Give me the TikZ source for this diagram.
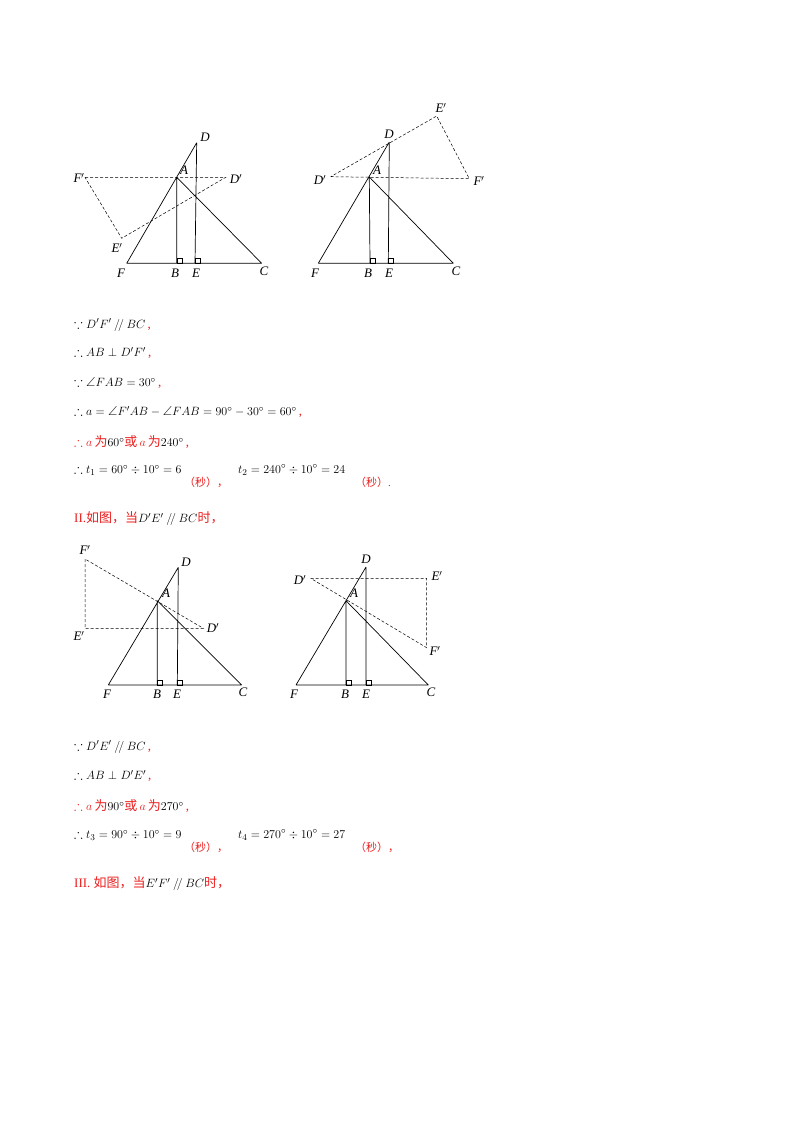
\documentclass[tikz,border=0pt]{standalone}
\usepackage{amssymb}
\usepackage{fontspec}
\setmainfont{Liberation Serif}
\newfontfamily\cjk{Noto Sans CJK SC}
\definecolor{rd}{RGB}{235,30,30}
\newcommand{\zh}[1]{{\cjk #1}}
\newcommand{\pl}{\mathbin{/\!/}}
\begin{document}
\begin{tikzpicture}[x=1pt,y=-1pt,
  solidl/.style={line width=0.7pt},
  dashl/.style={dashed,line width=0.5pt,dash pattern=on 3pt off 2pt},
  lbl/.style={font=\fontsize{13}{13}\selectfont\itshape,inner sep=0pt},
  txt/.style={anchor=west,inner sep=0pt,font=\fontsize{13}{16}\selectfont}]
\useasboundingbox (0,0) rectangle (800,1132);
\newcommand{\rt}[2]{\draw[line width=0.4pt] (#1,#2) rectangle ++(5,-5);}
% Figure 1
\coordinate (F1) at (126.7,263.3); \coordinate (B1) at (176.7,263.3);
\coordinate (E1) at (195,263.3); \coordinate (C1) at (261.7,263.3);
\coordinate (A1) at (176.7,177.3); \coordinate (D1) at (196.7,142.7);
\coordinate (Fp1) at (85,177.3); \coordinate (Dp1) at (225.7,177.3); \coordinate (Ep1) at (121.7,238.3);
\draw[solidl] (F1)--(D1) (A1)--(B1) (D1)--(E1) (A1)--(C1) (F1)--(C1);
\draw[dashl] (Fp1)--(Dp1)--(Ep1)--cycle;
\rt{176.7}{263.3}\rt{195}{263.3}
\node[lbl] at (205,137) {D}; \node[lbl] at (184,170) {A};
\node[lbl] at (79,178) {F$'$}; \node[lbl] at (236,179) {D$'$};
\node[lbl] at (117,248) {E$'$}; \node[lbl] at (121,273) {F};
\node[lbl] at (175,273) {B}; \node[lbl] at (196,273) {E}; \node[lbl] at (264,271) {C};
% Figure 2
\coordinate (F2) at (318.3,263.3); \coordinate (B2) at (370,263.3);
\coordinate (E2) at (388.3,263.3); \coordinate (C2) at (453.3,263.3);
\coordinate (A2) at (369.3,177); \coordinate (D2) at (389.3,142);
\coordinate (Dp2) at (330.7,176.7); \coordinate (Fp2) at (469.3,178.7); \coordinate (Ep2) at (436.7,116);
\draw[solidl] (F2)--(D2) (A2)--(B2) (D2)--(E2) (A2)--(C2) (F2)--(C2);
\draw[dashl] (Dp2)--(Fp2)--(Ep2)--cycle;
\rt{370}{263.3}\rt{388.3}{263.3}
\node[lbl] at (389,134) {D}; \node[lbl] at (377,170) {A};
\node[lbl] at (320,180) {D$'$}; \node[lbl] at (479,181) {F$'$};
\node[lbl] at (441,108) {E$'$}; \node[lbl] at (315,273) {F};
\node[lbl] at (368,273) {B}; \node[lbl] at (389,273) {E}; \node[lbl] at (456,271) {C};
% Figure 3
\coordinate (F3) at (108.3,685); \coordinate (B3) at (157.3,685);
\coordinate (E3) at (177.3,685); \coordinate (C3) at (241.7,685);
\coordinate (A3) at (157.3,600.7); \coordinate (D3) at (178.3,567.3);
\coordinate (Fp3) at (85,559); \coordinate (Ep3) at (85,628.3); \coordinate (Dp3) at (203.3,628.3);
\draw[solidl] (F3)--(D3) (A3)--(B3) (D3)--(E3) (A3)--(C3) (F3)--(C3);
\draw[dashl] (Fp3)--(Ep3)--(Dp3)--cycle;
\rt{157.3}{685}\rt{177.3}{685}
\node[lbl] at (186,562) {D}; \node[lbl] at (166,593) {A};
\node[lbl] at (85,550) {F$'$}; \node[lbl] at (213,628) {D$'$};
\node[lbl] at (79,636) {E$'$}; \node[lbl] at (107,694) {F};
\node[lbl] at (157,694) {B}; \node[lbl] at (177,694) {E}; \node[lbl] at (243,692) {C};
% Figure 4
\coordinate (F4) at (296,685); \coordinate (B4) at (346,685);
\coordinate (E4) at (366,685); \coordinate (C4) at (428.3,685);
\coordinate (A4) at (346,600.7); \coordinate (D4) at (366,567);
\coordinate (Dp4) at (310.7,578.3); \coordinate (Ep4) at (426.7,578.3); \coordinate (Fp4) at (426.7,647.7);
\draw[solidl] (F4)--(D4) (A4)--(B4) (D4)--(E4) (A4)--(C4) (F4)--(C4);
\draw[dashl] (Dp4)--(Ep4)--(Fp4)--cycle;
\rt{346}{685}\rt{366}{685}
\node[lbl] at (366,559) {D}; \node[lbl] at (354,593) {A};
\node[lbl] at (300,580) {D$'$}; \node[lbl] at (437,576) {E$'$};
\node[lbl] at (435,651) {F$'$}; \node[lbl] at (294,694) {F};
\node[lbl] at (345,694) {B}; \node[lbl] at (366,694) {E}; \node[lbl] at (431,692) {C};
% Text block 1
\node[txt] (t1) at (74,325) {$\because D'F'\pl BC$\,\textcolor{rd}{,}};
\node[txt] (t2) at (74,353) {$\therefore AB\perp D'F'$\,\textcolor{rd}{,}};
\node[txt] (t3) at (74,383) {$\because \angle FAB=30^\circ$\,\textcolor{rd}{,}};
\node[txt] (t4) at (74,412) {$\therefore a=\angle F'AB-\angle FAB=90^\circ-30^\circ=60^\circ$\,\textcolor{rd}{,}};
\node[txt,text=rd] (t5) at (74,442) {$\therefore a$\,\zh{为}\textcolor{black}{$60^\circ$}\zh{或}\,$a$\,\zh{为}\textcolor{black}{$240^\circ$}\,,};
\node[txt] (t6) at (74,470) {$\therefore t_1=60^\circ\div10^\circ=6$};
\node[txt,text=rd,font=\fontsize{11}{13}\selectfont] (t6b) at (184,482) {\zh{（秒），}};
\node[txt] (t7) at (238,470) {$t_2=240^\circ\div10^\circ=24$};
\node[txt,text=rd,font=\fontsize{11}{13}\selectfont] (t7b) at (355,482) {\zh{（秒）}.};
\node[txt,text=rd] (t8) at (74,519) {II.\zh{如图，当}\textcolor{black}{$D'E'\pl BC$}\zh{时，}};
% Text block 2
\node[txt] (u1) at (74,747) {$\because D'E'\pl BC$\,\textcolor{rd}{,}};
\node[txt] (u2) at (74,776) {$\therefore AB\perp D'E'$\,\textcolor{rd}{,}};
\node[txt,text=rd] (u3) at (74,806) {$\therefore a$\,\zh{为}\textcolor{black}{$90^\circ$}\zh{或}\,$a$\,\zh{为}\textcolor{black}{$270^\circ$}\,,};
\node[txt] (u4) at (74,835) {$\therefore t_3=90^\circ\div10^\circ=9$};
\node[txt,text=rd,font=\fontsize{11}{13}\selectfont] (u4b) at (184,847) {\zh{（秒），}};
\node[txt] (u5) at (238,835) {$t_4=270^\circ\div10^\circ=27$};
\node[txt,text=rd,font=\fontsize{11}{13}\selectfont] (u5b) at (355,847) {\zh{（秒），}};
\node[txt,text=rd] (u6) at (74,884) {III. \zh{如图，当}\textcolor{black}{$E'F'\pl BC$}\zh{时，}};
\end{tikzpicture}
\end{document}
